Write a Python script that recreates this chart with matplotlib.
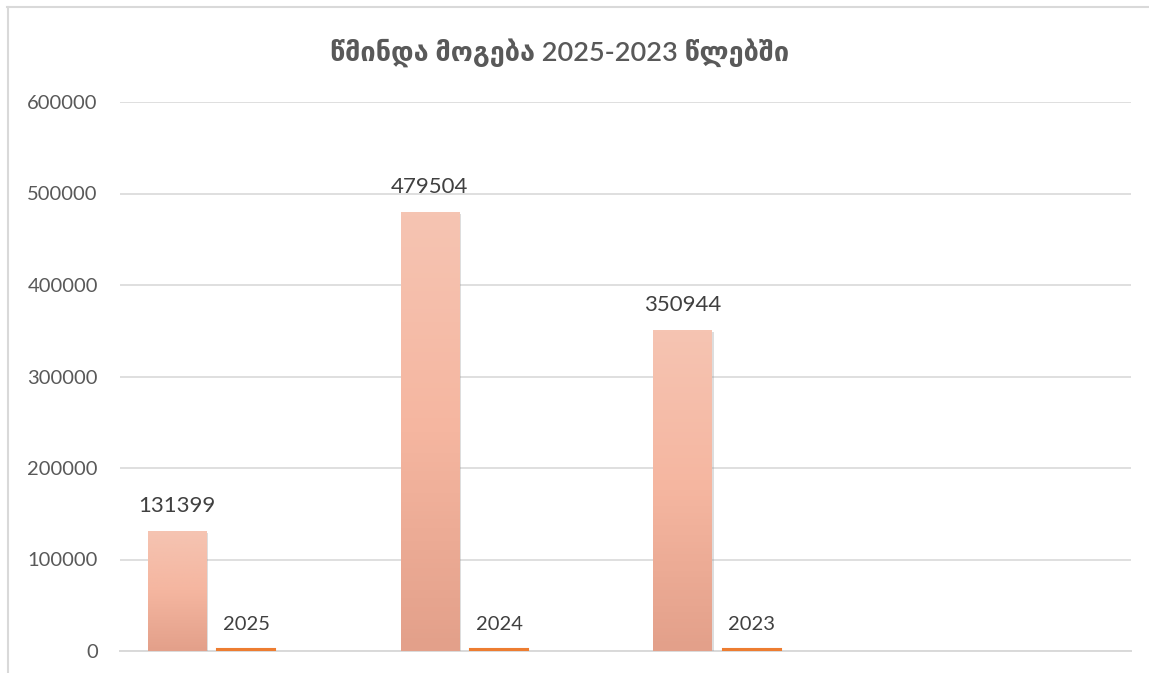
import matplotlib
matplotlib.use("Agg")
import matplotlib.pyplot as plt
import matplotlib.patheffects as pe
from matplotlib.lines import Line2D
from matplotlib.colors import LinearSegmentedColormap
import numpy as np

plt.rcParams['font.family'] = ['Lato', 'DejaVu Sans']

# data
categories = ['2025', '2024', '2023', '']
profit = [131399, 479504, 350944, None]
year_vals = [2025, 2024, 2023, None]
title = "წმინდა მოგება 2025-2023 წლებში"
yticks = [0, 100000, 200000, 300000, 400000, 500000, 600000]

W, H = 1149, 673
fig = plt.figure(figsize=(W / 100, H / 100), dpi=100)
ax = fig.add_axes([120 / W, 22 / H, 1011 / W, 549 / H])

x = np.arange(len(categories))
bw = 0.2295
step = 0.2747

grad = LinearSegmentedColormap.from_list('g', ['#e3a08a', '#f5b6a0', '#f5c4b2'])

for i, v in enumerate(profit):
    if v is None:
        continue
    b = ax.bar(x[i] - step, v, width=bw, color='#f4b8a2', zorder=3)[0]
    b.set_path_effects([pe.SimplePatchShadow(offset=(1.5, -1.5), shadow_rgbFace='#909090', alpha=0.3),
                        pe.Normal()])
    img = ax.imshow(np.linspace(0, 1, 100).reshape(-1, 1), cmap=grad, origin='lower', aspect='auto',
                    extent=[x[i] - step - bw / 2, x[i] - step + bw / 2, 0, v], zorder=4)
    img.set_clip_path(b)
    ax.annotate(str(v), (x[i] - step, v), xytext=(0, 19), textcoords='offset pixels',
                ha='center', va='baseline', fontsize=16, color='#404040', zorder=5)

for i, v in enumerate(year_vals):
    if v is None:
        continue
    ax.bar(x[i], v, width=bw, color='#ed7d31', edgecolor='#ed7d31', linewidth=1.5, zorder=3)
    ax.annotate(str(v), (x[i], v), xytext=(0, 19), textcoords='offset pixels',
                ha='center', va='baseline', fontsize=14.5, color='#404040', zorder=5)

ax.set_xlim(-0.5, len(categories) - 0.5)
ax.set_ylim(0, 600000)
ax.set_yticks(yticks)
ax.set_yticklabels([str(t) for t in yticks], fontsize=14.5, color='#595959')
ax.set_xticks([])
ax.tick_params(axis='y', length=0, pad=16)
ax.grid(axis='y', color='#d9d9d9', linewidth=1.2, zorder=0)
ax.set_axisbelow(True)
for s in ['top', 'right', 'left']:
    ax.spines[s].set_visible(False)
ax.spines['bottom'].set_color('#d9d9d9')
ax.spines['bottom'].set_linewidth(1.4)

fig.text(560 / W, (H - 61) / H, title, ha='center', va='baseline', fontsize=19.5,
         fontweight='semibold', color='#595959')

# chart area border (only top and left visible)
fig.add_artist(Line2D([7 / W, 1], [(H - 7) / H, (H - 7) / H], color='#d9d9d9', linewidth=1.5))
fig.add_artist(Line2D([8 / W, 8 / W], [0, (H - 7) / H], color='#d9d9d9', linewidth=1.5))

fig.savefig('out.png', dpi=100)
